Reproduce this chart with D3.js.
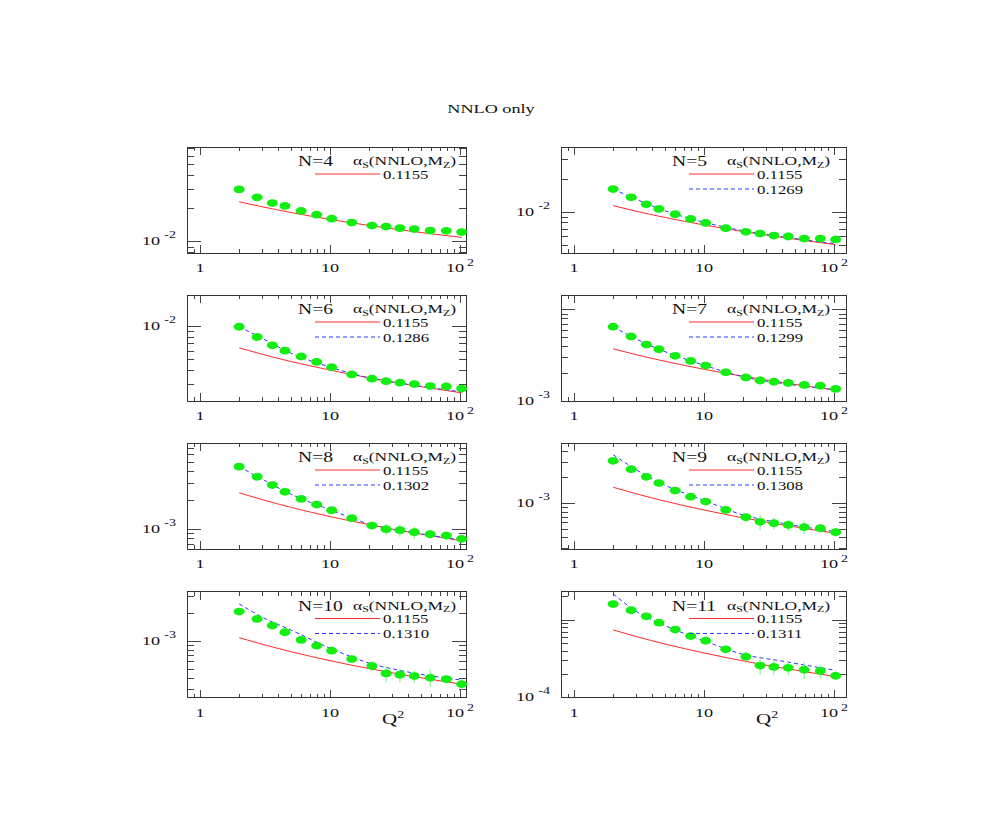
<!DOCTYPE html>
<html>
<head>
<meta charset="utf-8">
<script src="https://cdn.jsdelivr.net/npm/d3@7"></script>
<style>
body{margin:0;background:#fff}
text{font-family:"Liberation Serif","Times New Roman",serif;fill:#111}
.ticks line{shape-rendering:crispEdges}
</style>
</head>
<body>
<svg id="chart" width="981" height="817"></svg>
<script>
// Q2 bins of the data points and the grid the curves were read on
var q2Points = [2, 2.75, 3.6, 4.5, 6, 7.9, 10.3, 14.7, 21, 27, 34.5, 44.5, 59, 78.5, 103]
var q2Curve = [2, 3, 5, 10, 20, 40, 103]

var nLabels = ["N=4", "N=5", "N=6", "N=7", "N=8", "N=9", "N=10", "N=11"]
var alphaRed = "0.1155"
var alphaBlue = [null, "0.1269", "0.1286", "0.1299", "0.1302", "0.1308", "0.1310", "0.1311"]

// y axis ranges and which powers of ten carry a label
var yDomains = [[0.00786, 0.0718], [0.00419, 0.0390], [0.00208, 0.0194], [0.000995, 0.01435],
	[0.000615, 0.00785], [0.000294, 0.00499], [0.000246, 0.00336], [0.0000991, 0.00231]]
var yLabelExp = [-2, -2, -2, -3, -3, -3, -3, -4]
var xDomains = [[0.794, 111.2], [0.794, 123.7]]

// data points
var pointsN4 = [0.02965, 0.0251, 0.0223, 0.0210, 0.0189, 0.0175, 0.0161, 0.01483, 0.01393, 0.01365, 0.01321, 0.01294, 0.01256, 0.01248, 0.01216]
var pointsN5 = [0.01608, 0.01352, 0.01167, 0.01059, 0.00947, 0.00858, 0.00789, 0.00706, 0.00654, 0.00631, 0.00605, 0.00593, 0.00568, 0.00568, 0.00557]
var pointsN6 = [0.00994, 0.00801, 0.00672, 0.00601, 0.00531, 0.00474, 0.00424, 0.00364, 0.00333, 0.00316, 0.00306, 0.00297, 0.00285, 0.00283, 0.00270]
var pointsN7 = [0.00646, 0.00505, 0.00412, 0.00366, 0.00310, 0.00273, 0.00243, 0.00205, 0.00180, 0.00167, 0.00162, 0.00157, 0.00149, 0.00146, 0.00135]
var pointsN8 = [0.00445, 0.00349, 0.00286, 0.00243, 0.00205, 0.00179, 0.00156, 0.00129, 0.00108, 0.00099, 0.000966, 0.00092, 0.000877, 0.000849, 0.000785]
var pointsN9 = [0.00310, 0.00248, 0.00202, 0.00171, 0.00140, 0.00119, 0.001045, 0.000836, 0.000687, 0.000607, 0.000585, 0.000560, 0.000526, 0.000512, 0.000460]
var pointsN10 = [0.00205, 0.00171, 0.00145, 0.00123, 0.001017, 0.000883, 0.000780, 0.000635, 0.000535, 0.000446, 0.000431, 0.000417, 0.000400, 0.000387, 0.000342]
var pointsN11 = [0.001589, 0.001324, 0.001104, 0.000914, 0.000745, 0.000615, 0.000535, 0.000415, 0.000333, 0.000256, 0.000246, 0.000239, 0.000226, 0.000218, 0.000189]

// relative errors of the points
var errN4 = [0, 0, 0, 0, 0, 0, 0, 0, 0, 0, 0, 0, 0, 0, 0]
var errN5 = [0, 0, 0, 0, 0, 0, 0, 0, 0, 0, 0, 0, 0, 0, 0]
var errN6 = [0, 0, 0, 0, 0, 0, 0, 0, 0.03, 0.05, 0.03, 0.03, 0.03, 0.03, 0.03]
var errN7 = [0, 0, 0, 0, 0, 0, 0, 0, 0.05, 0.12, 0.09, 0.08, 0.08, 0.08, 0.06]
var errN8 = [0, 0, 0, 0, 0, 0, 0, 0, 0.06, 0.13, 0.15, 0.14, 0.10, 0.10, 0.10]
var errN9 = [0, 0, 0, 0, 0, 0, 0, 0.04, 0.11, 0.20, 0.15, 0.15, 0.17, 0.10, 0.10]
var errN10 = [0, 0, 0, 0, 0, 0, 0, 0.06, 0.12, 0.20, 0.17, 0.15, 0.21, 0.10, 0.14]
var errN11 = [0, 0, 0, 0, 0, 0, 0, 0.08, 0.17, 0.24, 0.22, 0.20, 0.24, 0.20, 0.10]

// alpha_s = 0.1155 curves (red)
var redN4 = [0.0229, 0.02063, 0.0183, 0.01585, 0.01397, 0.01248, 0.01088]
var redN5 = [0.01134, 0.0101, 0.00886, 0.00756, 0.00658, 0.00581, 0.00500]
var redN6 = [0.00637, 0.00557, 0.00478, 0.00399, 0.00339, 0.00294, 0.00247]
var redN7 = [0.00370, 0.003196, 0.002704, 0.002213, 0.001855, 0.001584, 0.00131]
var redN8 = [0.00237, 0.002015, 0.001674, 0.001341, 0.001103, 0.000926, 0.00075]
var redN9 = [0.00153, 0.001287, 0.001056, 0.000833, 0.000676, 0.000561, 0.000448]
var redN10 = [0.001077, 0.000916, 0.000762, 0.00061, 0.000502, 0.000422, 0.000342]
var redN11 = [0.000738, 0.000607, 0.000486, 0.000372, 0.000294, 0.000238, 0.000185]

// fitted alpha_s curves (blue dashed)
var blueN4 = null
var blueN5 = [0.01608, 0.0130, 0.0102, 0.0080, 0.0067, 0.0059, 0.00508]
var blueN6 = [0.00994, 0.0078, 0.0057, 0.00425, 0.00338, 0.00295, 0.00252]
var blueN7 = [0.00646, 0.00475, 0.00345, 0.00245, 0.00183, 0.00155, 0.00132]
var blueN8 = [0.00445, 0.0033, 0.0023, 0.00158, 0.00112, 0.00093, 0.00077]
var blueN9 = [0.00365, 0.00245, 0.00162, 0.00108, 0.00073, 0.000585, 0.000468]
var blueN10 = [0.00248, 0.00179, 0.00130, 0.00083, 0.000575, 0.000461, 0.000378]
var blueN11 = [0.00215, 0.001285, 0.000841, 0.000535, 0.000357, 0.000292, 0.000222]

var POINTS = [pointsN4, pointsN5, pointsN6, pointsN7, pointsN8, pointsN9, pointsN10, pointsN11]
var ERRORS = [errN4, errN5, errN6, errN7, errN8, errN9, errN10, errN11]
var RED = [redN4, redN5, redN6, redN7, redN8, redN9, redN10, redN11]
var BLUE = [blueN4, blueN5, blueN6, blueN7, blueN8, blueN9, blueN10, blueN11]

// layout
var COL_LEFT = [187, 561]
var COL_WIDTH = [279, 285]
var ROW_TOP = [147, 295, 443, 591.5]
var FRAME_H = 106
var SX = 1.4   // text in the original is stretched sideways
var GREEN = "#12ee12"

var svg = d3.select("#chart")

function label(parent, x, y, anchor, size){
	return parent.append("text")
		.attr("transform", "translate(" + x + "," + y + ") scale(" + SX + ",1)")
		.attr("text-anchor", anchor)
		.style("font-size", size + "px")
}

function isMajor(v){
	var l = Math.log10(v)
	return Math.abs(l - Math.round(l)) < 1e-6
}

label(svg, 491, 113, "middle", 13).text("NNLO only")

function tickAxis(g, axisFn, scale, values, size, transform){
	g.append("g")
		.attr("class", "ticks")
		.attr("transform", transform)
		.attr("color", "#444")
		.call(axisFn(scale).tickValues(values).tickSize(size).tickFormat(""))
		.call(function(s){ s.select(".domain").remove() })
}

function buildPanel(i){
	var col = i % 2, row = Math.floor(i / 2)
	var left = COL_LEFT[col], top = ROW_TOP[row], w = COL_WIDTH[col], h = FRAME_H

	var x = d3.scaleLog().domain(xDomains[col]).range([left, left + w])
	var y = d3.scaleLog().domain(yDomains[i]).range([top + h, top])

	var g = svg.append("g").attr("class", "panel n" + (i + 4))

	var xt = x.ticks(), yt = y.ticks()
	var xMaj = xt.filter(isMajor), xMin = xt.filter(function(v){ return !isMajor(v) })
	var yMaj = yt.filter(isMajor), yMin = yt.filter(function(v){ return !isMajor(v) })

	tickAxis(g, d3.axisBottom, x, xMaj, -8, "translate(0," + (top + h) + ")")
	tickAxis(g, d3.axisBottom, x, xMin, -4, "translate(0," + (top + h) + ")")
	tickAxis(g, d3.axisTop, x, xMaj, -8, "translate(0," + top + ")")
	tickAxis(g, d3.axisTop, x, xMin, -4, "translate(0," + top + ")")
	tickAxis(g, d3.axisLeft, y, yMaj, -14, "translate(" + left + ",0)")
	tickAxis(g, d3.axisLeft, y, yMin, -7, "translate(" + left + ",0)")
	tickAxis(g, d3.axisRight, y, yMaj, -14, "translate(" + (left + w) + ",0)")
	tickAxis(g, d3.axisRight, y, yMin, -7, "translate(" + (left + w) + ",0)")

	g.append("rect")
		.attr("x", left)
		.attr("y", top)
		.attr("width", w)
		.attr("height", h)
		.attr("fill", "none")
		.attr("stroke", "#333")
		.attr("shape-rendering", "crispEdges")

	// x labels
	xMaj.forEach(function(v){
		var e = Math.round(Math.log10(v))
		var t = label(g, x(v), top + h + 19, "middle", 13)
		if (e < 2){
			t.text(String(v))
		}else{
			t.append("tspan").text("10")
			t.append("tspan").attr("dx", 2).attr("dy", -6).style("font-size", "10px").text(e)
		}
	})

	// y labels
	yMaj.forEach(function(v){
		var e = Math.round(Math.log10(v))
		if (e != yLabelExp[i]) return
		var t = label(g, left - 11, y(v) + 4, "end", 13)
		t.append("tspan").text("10")
		t.append("tspan").attr("dx", 3).attr("dy", -7).style("font-size", "10px").text(e)
	})

	if (row == 3){
		var q = label(g, left + 195, top + h + 26, "start", 15)
		q.append("tspan").text("Q")
		q.append("tspan").attr("dy", -6).style("font-size", "10px").text("2")
	}

	// curves
	var line = d3.line()
		.x(function(d){ return x(d[0]) })
		.y(function(d){ return y(d[1]) })
		.curve(d3.curveMonotoneX)

	g.append("path")
		.datum(q2Curve.map(function(q, k){ return [q, RED[i][k]] }))
		.attr("d", line)
		.attr("fill", "none")
		.attr("stroke", "#ff2a2a")
		.attr("stroke-width", 1)

	if (BLUE[i]){
		g.append("path")
			.datum(q2Curve.map(function(q, k){ return [q, BLUE[i][k]] }))
			.attr("d", line)
			.attr("fill", "none")
			.attr("stroke", "#2a3cff")
			.attr("stroke-width", 1)
			.attr("stroke-dasharray", "4,3")
	}

	// error bars then points
	var pts = q2Points.map(function(q, k){ return {q: q, v: POINTS[i][k], e: ERRORS[i][k]} })

	g.selectAll(".err")
		.data(pts.filter(function(d){ return d.e > 0 }))
		.enter()
		.append("line")
		.attr("class", "err")
		.attr("x1", function(d){ return x(d.q) })
		.attr("x2", function(d){ return x(d.q) })
		.attr("y1", function(d){ return y(d.v * (1 - d.e)) })
		.attr("y2", function(d){ return y(d.v * (1 + d.e)) })
		.attr("stroke", "#7aee7a")
		.attr("stroke-width", 1)

	g.selectAll(".dot")
		.data(pts)
		.enter()
		.append("ellipse")
		.attr("class", "dot")
		.attr("cx", function(d){ return x(d.q) })
		.attr("cy", function(d){ return y(d.v) })
		.attr("rx", 5.5)
		.attr("ry", 3.9)
		.attr("fill", GREEN)

	// legend
	label(g, left + 111, top + 19, "start", 14).text(nLabels[i])

	var a = label(g, left + 166, top + 18, "start", 12.5)
	a.append("tspan").text("\u03b1")
	a.append("tspan").attr("dy", 2.5).style("font-size", "8.5px").text("S")
	a.append("tspan").attr("dy", -2.5).text("(NNLO,M")
	a.append("tspan").attr("dy", 2.5).style("font-size", "8.5px").text("Z")
	a.append("tspan").attr("dy", -2.5).text(")")

	g.append("line")
		.attr("x1", left + 128).attr("x2", left + 193)
		.attr("y1", top + 27).attr("y2", top + 27)
		.attr("stroke", "#ff2a2a")
	label(g, left + 196, top + 31.5, "start", 12).text(alphaRed)

	if (alphaBlue[i]){
		g.append("line")
			.attr("x1", left + 128).attr("x2", left + 193)
			.attr("y1", top + 42).attr("y2", top + 42)
			.attr("stroke", "#2a3cff")
			.attr("stroke-dasharray", "4,3")
		label(g, left + 196, top + 46.5, "start", 12).text(alphaBlue[i])
	}
}

for (var i = 0; i < nLabels.length; i++){
	buildPanel(i)
}
</script>
</body>
</html>
